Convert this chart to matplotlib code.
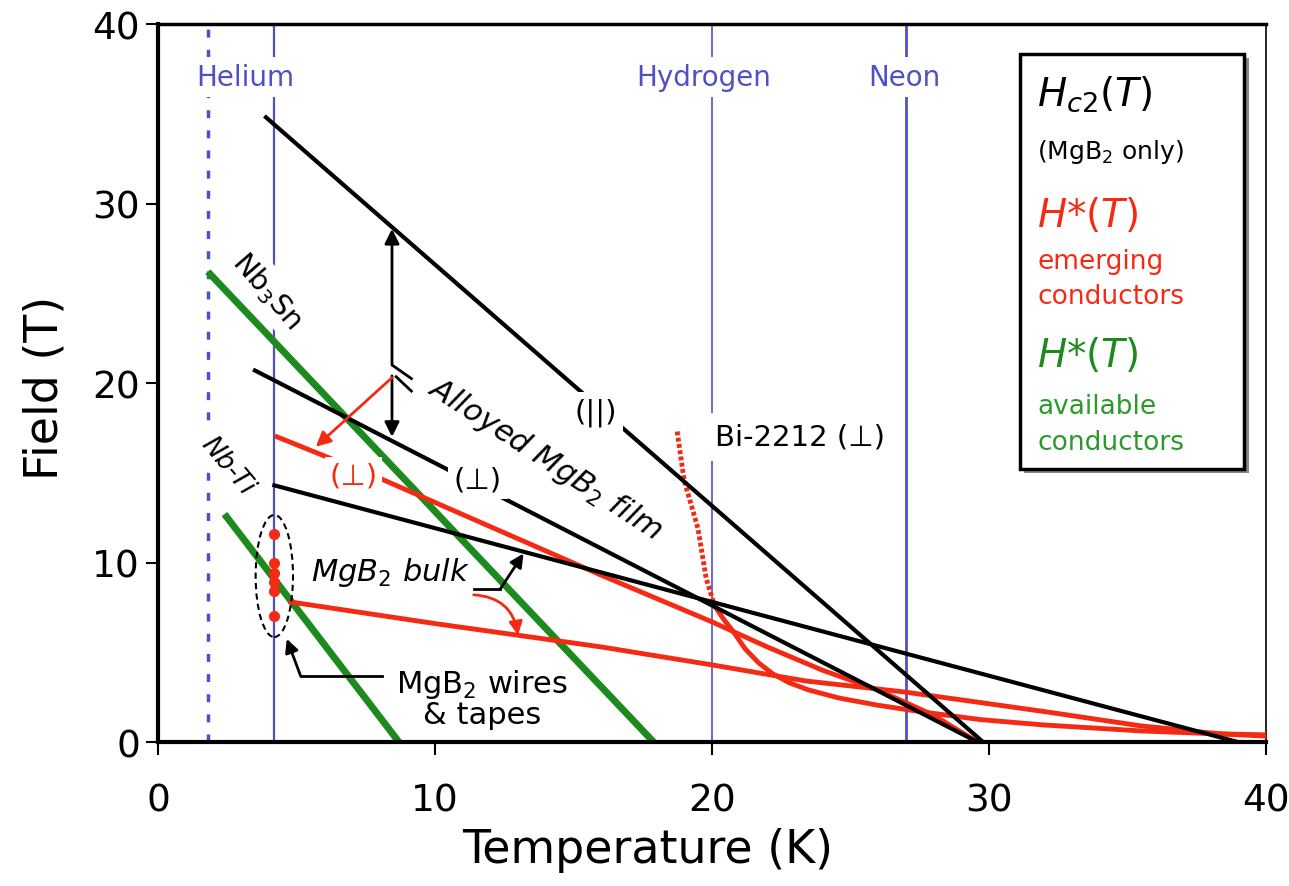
import numpy as np
import matplotlib.pyplot as plt
from matplotlib.patches import Ellipse, Rectangle

# cryogen temperatures (K)
superfluid_T = 1.8
helium_T = 4.2
hydrogen_T = 20.0
neon_T = 27.0

# Hc2(T) of MgB2 (black)
hc2_par_T = [3.9, 29.8]
hc2_par_H = [34.8, 0.0]
hc2_perp_T = [3.5, 29.6]
hc2_perp_H = [20.7, 0.0]
hc2_bulk_T = [4.2, 39.0]
hc2_bulk_H = [14.3, 0.0]

# H*(T) emerging conductors (red)
film_perp_T = [4.3, 8.0, 12.0, 16.0, 20.0, 22.0, 24.0, 26.0, 28.0, 29.6]
film_perp_H = [17.0, 14.7, 12.0, 9.3, 6.7, 5.3, 4.0, 2.9, 1.5, 0.0]
bulk_star_T = [4.8, 10.0, 16.0, 20.0, 23.4, 26.9, 29.7, 32.0, 35.5, 38.4, 40.0]
bulk_star_H = [7.8, 6.6, 5.3, 4.3, 3.4, 2.8, 2.2, 1.7, 0.9, 0.45, 0.33]
bi2212_dot_T = [18.75, 19.0, 19.5, 19.8, 20.1]
bi2212_dot_H = [17.3, 14.6, 11.9, 9.1, 7.6]
bi2212_T = [20.1, 20.4, 20.8, 21.2, 21.7, 22.2, 22.8, 23.5, 24.6, 26.0, 27.5,
            29.7, 32.0, 35.5, 38.0, 40.0]
bi2212_H = [7.6, 6.9, 6.1, 5.2, 4.4, 3.8, 3.3, 2.9, 2.45, 2.05, 1.7,
            1.25, 0.95, 0.62, 0.47, 0.4]

# MgB2 wires & tapes at 4.2 K
wire_T = [4.2, 4.2, 4.2, 4.2, 4.2, 4.2]
wire_H = [11.6, 10.0, 9.4, 8.9, 8.4, 7.0]

# H*(T) available conductors (green)
nb3sn_T = [1.8, 17.9]
nb3sn_H = [26.2, 0.0]
nbti_T = [2.4, 8.7]
nbti_H = [12.7, 0.0]

ticks = [0, 10, 20, 30, 40]

BLUE = '#5050c4'
RED = '#f52a14'
GREEN = '#1c8a1c'
LGREEN = '#2a9a2a'

fig = plt.figure(figsize=(12.89, 8.87), dpi=100)
ax = fig.add_axes([0.1226, 0.1623, 0.8592, 0.8095])
ax.set_xlim(0, 40)
ax.set_ylim(0, 40)

# cryogen lines
ax.axvline(helium_T, color=BLUE, lw=1.6, zorder=1)
ax.axvline(superfluid_T, color=BLUE, lw=2.5, dashes=(2.3, 3.5), zorder=1)
ax.axvline(hydrogen_T, color=BLUE, lw=1.2, zorder=1)
ax.axvline(neon_T, color=BLUE, lw=2.0, zorder=1)

# available conductors
ax.plot(nb3sn_T, nb3sn_H, color=GREEN, lw=5, solid_capstyle='butt', zorder=2)
ax.plot(nbti_T, nbti_H, color=GREEN, lw=5, solid_capstyle='butt', zorder=2)

# emerging conductors
ax.plot(film_perp_T, film_perp_H, color=RED, lw=3.5, zorder=3)
ax.plot(bulk_star_T, bulk_star_H, color=RED, lw=3.5, zorder=3)
ax.plot(bi2212_T, bi2212_H, color=RED, lw=3.5, zorder=3)
ax.plot(bi2212_dot_T, bi2212_dot_H, color=RED, lw=3.5, dashes=(0.8, 0.5), zorder=3)
ax.plot(wire_T, wire_H, 'o', color=RED, ms=7, zorder=6)

# Hc2
ax.plot(hc2_par_T, hc2_par_H, color='k', lw=3, zorder=4)
ax.plot(hc2_perp_T, hc2_perp_H, color='k', lw=3, zorder=4)
ax.plot(hc2_bulk_T, hc2_bulk_H, color='k', lw=3, zorder=4)

ax.add_patch(Ellipse((helium_T, 9.25), 1.35, 6.8, fill=False, ec='k',
                     lw=1.5, ls=(0, (3, 2)), zorder=6))

wb = dict(boxstyle='square,pad=0.2', fc='white', ec='none')

# cryogen labels
ax.text(3.15, 37.05, 'Helium', color=BLUE, fontsize=20, ha='center', va='center', bbox=wb, zorder=5)
ax.text(19.7, 37.05, 'Hydrogen', color=BLUE, fontsize=20, ha='center', va='center', bbox=wb, zorder=5)
ax.text(26.95, 37.05, 'Neon', color=BLUE, fontsize=20, ha='center', va='center', bbox=wb, zorder=5)

# curve labels
ax.text(15.8, 18.4, '(||)', fontsize=21, ha='center', va='center', bbox=wb, zorder=5)
ax.text(11.55, 14.65, '(\u22a5)', fontsize=21, ha='center', va='center', bbox=wb, zorder=5)
ax.text(7.05, 14.85, '(\u22a5)', fontsize=21, color=RED, ha='center', va='center',
        bbox=dict(boxstyle='square,pad=0.15', fc='white', ec='none'), zorder=5)
ax.text(23.2, 17.0, 'Bi-2212 (\u22a5)', fontsize=21, ha='center', va='center',
        bbox=dict(boxstyle='square,pad=0.35', fc='white', ec='none'), zorder=5)
ax.text(14.0, 15.8, 'Alloyed MgB$_2$ film', fontsize=22, style='italic', rotation=-33,
        ha='center', va='center', rotation_mode='anchor', zorder=5)
ax.text(3.95, 25.2, 'Nb$_3$Sn', fontsize=21, rotation=-49, ha='center', va='center',
        rotation_mode='anchor', bbox=wb, zorder=5)
ax.text(2.5, 15.4, 'Nb-Ti', fontsize=19, style='italic', rotation=-50, ha='center', va='center',
        rotation_mode='anchor', bbox=wb, zorder=5)
ax.text(8.4, 9.5, 'MgB$_2$ bulk', fontsize=22, style='italic', ha='center', va='center', zorder=5)
ax.text(11.7, 2.45, 'MgB$_2$ wires\n& tapes', fontsize=22, ha='center', va='center',
        linespacing=1.0, zorder=5)

# alloyed film leaders
arr_T = 8.45
ax.annotate('', xy=(arr_T, np.interp(arr_T, hc2_par_T, hc2_par_H) - 0.1),
            xytext=(arr_T, 21.0),
            arrowprops=dict(arrowstyle='-|>', color='k', lw=2, mutation_scale=22, shrinkA=0, shrinkB=0),
            zorder=6)
ax.annotate('', xy=(arr_T, 17.0), xytext=(arr_T, 20.4),
            arrowprops=dict(arrowstyle='-|>', color='k', lw=2, mutation_scale=22, shrinkA=0, shrinkB=0),
            zorder=6)
ax.plot([8.5, 9.15], [20.95, 20.25], color='k', lw=2, zorder=6)
ax.plot([8.6, 9.15], [20.35, 19.55], color='k', lw=2, zorder=6)
ax.annotate('', xy=(5.7, 16.45), xytext=(8.45, 20.3),
            arrowprops=dict(arrowstyle='-|>', color=RED, lw=2, mutation_scale=22, shrinkA=0, shrinkB=0),
            zorder=6)

# bulk leaders
ax.plot([11.4, 12.35], [8.5, 8.5], color='k', lw=2, zorder=6)
ax.annotate('', xy=(13.2, np.interp(13.2, hc2_bulk_T, hc2_bulk_H) - 0.1), xytext=(12.35, 8.5),
            arrowprops=dict(arrowstyle='-|>', color='k', lw=2, mutation_scale=20, shrinkA=0, shrinkB=0),
            zorder=6)
ax.annotate('', xy=(13.0, np.interp(13.0, bulk_star_T, bulk_star_H)), xytext=(11.4, 8.2),
            arrowprops=dict(arrowstyle='-|>', color=RED, lw=2, mutation_scale=20, shrinkA=0, shrinkB=0,
                            connectionstyle='arc3,rad=-0.4'),
            zorder=6)

# wires leader
ax.plot([8.1, 5.15], [3.68, 3.68], color='k', lw=2, zorder=6)
ax.annotate('', xy=(4.65, 5.75), xytext=(5.15, 3.68),
            arrowprops=dict(arrowstyle='-|>', color='k', lw=2, mutation_scale=20, shrinkA=0, shrinkB=0),
            zorder=6)

# legend box
ax.add_patch(Rectangle((0.782, 0.374), 0.203, 0.578, transform=ax.transAxes, fc='#888888',
                       ec='none', clip_on=False, zorder=7))
ax.add_patch(Rectangle((0.778, 0.380), 0.203, 0.578, transform=ax.transAxes, fc='white',
                       ec='k', lw=2.5, clip_on=False, zorder=8))
lx = 0.794
ax.text(lx, 0.904, '$H_{c2}(T)$', transform=ax.transAxes, fontsize=28, va='center', zorder=9)
ax.text(lx, 0.823, '(MgB$_2$ only)', transform=ax.transAxes, fontsize=18, va='center', zorder=9)
ax.text(lx, 0.735, '$H$*($T$)', transform=ax.transAxes, fontsize=28, color=RED, va='center', zorder=9)
ax.text(lx, 0.670, 'emerging', transform=ax.transAxes, fontsize=19, color=RED, va='center', zorder=9)
ax.text(lx, 0.621, 'conductors', transform=ax.transAxes, fontsize=19, color=RED, va='center', zorder=9)
ax.text(lx, 0.540, '$H$*($T$)', transform=ax.transAxes, fontsize=28, color=GREEN, va='center', zorder=9)
ax.text(lx, 0.468, 'available', transform=ax.transAxes, fontsize=19, color=LGREEN, va='center', zorder=9)
ax.text(lx, 0.418, 'conductors', transform=ax.transAxes, fontsize=19, color=LGREEN, va='center', zorder=9)

# axes styling
ax.set_xticks(ticks)
ax.set_yticks(ticks)
ax.tick_params(axis='both', direction='out', length=9, width=1.5, labelsize=27)
ax.tick_params(axis='x', pad=20)
ax.tick_params(axis='y', pad=4)
ax.spines['left'].set_linewidth(3)
ax.spines['bottom'].set_linewidth(3)
ax.spines['top'].set_linewidth(2.5)
ax.spines['right'].set_linewidth(1.2)
ax.set_xlabel('Temperature (K)', fontsize=33, va='center')
ax.set_ylabel('Field (T)', fontsize=33, va='center')
ax.xaxis.set_label_coords(0.442, -0.149)
ax.yaxis.set_label_coords(-0.102, 0.494)

fig.savefig('out.png', dpi=100)
